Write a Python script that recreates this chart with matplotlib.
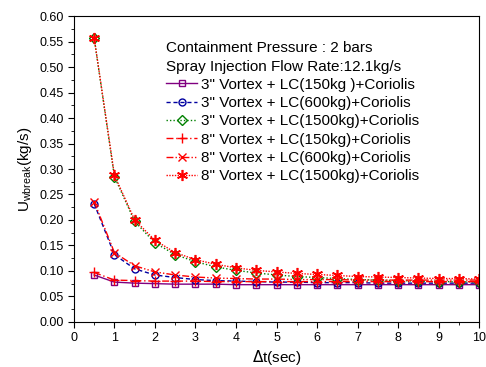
import matplotlib.pyplot as plt
from matplotlib.ticker import MultipleLocator

plt.rcParams["font.family"] = ["Liberation Sans", "DejaVu Sans"]

dt = [0.5, 1.0, 1.5, 2.0, 2.5, 3.0, 3.5, 4.0, 4.5, 5.0,
      5.5, 6.0, 6.5, 7.0, 7.5, 8.0, 8.5, 9.0, 9.5, 10.0]

v3_150 = [0.092, 0.078, 0.076, 0.075, 0.074, 0.074, 0.074, 0.073, 0.073, 0.073,
          0.073, 0.073, 0.073, 0.073, 0.073, 0.073, 0.073, 0.073, 0.073, 0.073]
v3_600 = [0.232, 0.132, 0.104, 0.092, 0.087, 0.083, 0.081, 0.080, 0.079, 0.078,
          0.078, 0.077, 0.077, 0.077, 0.076, 0.076, 0.076, 0.076, 0.076, 0.076]
v3_1500 = [0.557, 0.285, 0.197, 0.155, 0.132, 0.118, 0.108, 0.101, 0.096, 0.092,
           0.089, 0.087, 0.085, 0.083, 0.082, 0.081, 0.080, 0.079, 0.079, 0.078]
v8_150 = [0.097, 0.082, 0.081, 0.080, 0.080, 0.080, 0.079, 0.079, 0.079, 0.079,
          0.079, 0.079, 0.079, 0.079, 0.079, 0.079, 0.079, 0.079, 0.079, 0.079]
v8_600 = [0.236, 0.136, 0.110, 0.098, 0.092, 0.088, 0.086, 0.085, 0.084, 0.084,
          0.083, 0.083, 0.083, 0.082, 0.082, 0.082, 0.082, 0.082, 0.082, 0.082]
v8_1500 = [0.558, 0.288, 0.200, 0.160, 0.136, 0.122, 0.113, 0.106, 0.101, 0.098,
           0.095, 0.093, 0.091, 0.089, 0.088, 0.087, 0.086, 0.085, 0.085, 0.084]

labels = [
    '3" Vortex + LC(150kg )+Coriolis',
    '3" Vortex + LC(600kg)+Coriolis',
    '3" Vortex + LC(1500kg)+Coriolis',
    '8" Vortex + LC(150kg)+Coriolis',
    '8" Vortex + LC(600kg)+Coriolis',
    '8" Vortex + LC(1500kg)+Coriolis',
]

fig = plt.figure(figsize=(4.86, 3.67), dpi=100)
ax = fig.add_axes([0.152, 0.123, 0.834, 0.833])

ax.plot(dt, v3_150, color="#800080", ls="-", lw=1, marker="s", ms=5,
        mfc="none", mew=1, label=labels[0])
ax.plot(dt, v3_600, color="#0000a0", ls=(0, (3, 2)), lw=1, marker="o", ms=5,
        mfc="none", mew=1, label=labels[1])
ax.plot(dt, v3_1500, color="#008000", ls=(0, (1, 1.5)), lw=1, marker="D", ms=5,
        mfc="none", mew=1, label=labels[2])
ax.plot(dt, v8_150, color="red", ls=(0, (5, 2, 1, 2)), lw=1, marker="+", ms=7,
        mew=1, label=labels[3])
ax.plot(dt, v8_600, color="red", ls=(0, (5, 1.5, 1, 1.5, 1, 1.5)), lw=1,
        marker="x", ms=6, mew=1, label=labels[4])
ax.plot(dt, v8_1500, color="red", ls=(0, (1, 1)), lw=1, marker=(6, 2, 0),
        ms=8, mew=1.2, label=labels[5])

ax.set_xlim(0, 10)
ax.set_ylim(0, 0.6)
ax.xaxis.set_major_locator(MultipleLocator(1))
ax.xaxis.set_minor_locator(MultipleLocator(0.5))
ax.yaxis.set_major_locator(MultipleLocator(0.05))
ax.yaxis.set_minor_locator(MultipleLocator(0.025))
ax.yaxis.set_major_formatter(plt.FormatStrFormatter("%.2f"))
ax.tick_params(which="both", direction="out", top=False, right=False,
               labelsize=9)
ax.tick_params(which="major", length=4)
ax.tick_params(which="minor", length=2.5)

ax.set_xlabel(r"$\Delta$t(sec)", fontsize=11, labelpad=3)
ax.set_ylabel(r"U$_{\mathregular{wbreak}}$(kg/s)", fontsize=11, labelpad=4)

leg = ax.legend(loc="upper left", bbox_to_anchor=(0.228, 0.92), frameon=False,
                fontsize=11, handlelength=2.0, handletextpad=0.3,
                labelspacing=0.28, borderaxespad=0, borderpad=0,
                title="Containment Pressure : 2 bars\nSpray Injection Flow Rate:12.1kg/s",
                title_fontsize=11, alignment="left")
leg.get_title().set_linespacing(1.45)

fig.savefig("out.png", dpi=100)
